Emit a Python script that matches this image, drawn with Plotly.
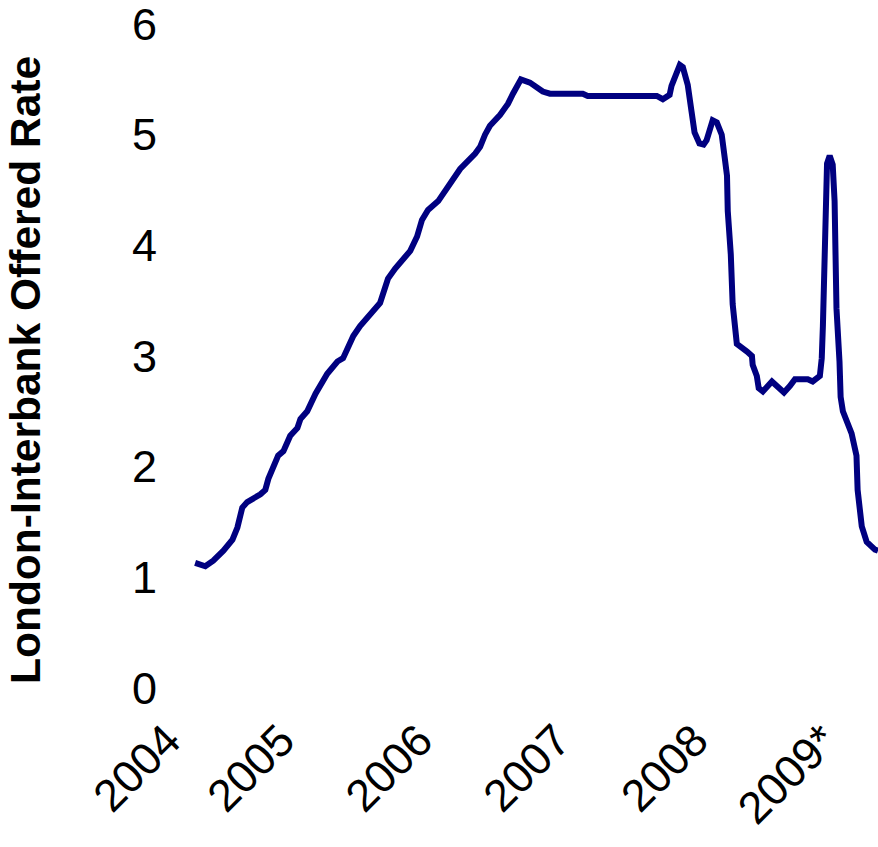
import plotly.graph_objects as go

# Three-month London Interbank Offered Rate, 2004 - early 2009 (percent)
dates = [
    "2004-02-22", "2004-03-20", "2004-04-10", "2004-05-07", "2004-05-31",
    "2004-06-13", "2004-06-26", "2004-07-09", "2004-08-13", "2004-08-26",
    "2004-09-03", "2004-09-16", "2004-09-29", "2004-10-13", "2004-10-31",
    "2004-11-19", "2004-11-27", "2004-12-15", "2005-01-06", "2005-02-06",
    "2005-03-05", "2005-03-20", "2005-04-03", "2005-04-16", "2005-05-04",
    "2005-06-08", "2005-06-26", "2005-07-17", "2005-08-05", "2005-09-14",
    "2005-10-02", "2005-10-15", "2005-10-31", "2005-11-27", "2005-12-20",
    "2006-01-05", "2006-01-24", "2006-03-05", "2006-03-18", "2006-03-31",
    "2006-04-13", "2006-05-10", "2006-05-31", "2006-06-13", "2006-06-23",
    "2006-07-04", "2006-07-28", "2006-08-31", "2006-09-19", "2006-12-15",
    "2006-12-28", "2007-06-29", "2007-07-15", "2007-08-02", "2007-08-07",
    "2007-08-29", "2007-09-06", "2007-09-19", "2007-09-29", "2007-10-07",
    "2007-10-20", "2007-10-31", "2007-11-08", "2007-11-24", "2007-12-05",
    "2007-12-18", "2007-12-26", "2008-01-01", "2008-01-03", "2008-01-11",
    "2008-01-16", "2008-01-24", "2008-01-27", "2008-02-23", "2008-03-07",
    "2008-03-09", "2008-03-20", "2008-03-25", "2008-04-05", "2008-04-29",
    "2008-05-12", "2008-05-31", "2008-06-16", "2008-06-29", "2008-08-02",
    "2008-08-15", "2008-09-03", "2008-09-08", "2008-09-11", "2008-09-16",
    "2008-09-19", "2008-09-22", "2008-09-29", "2008-10-07", "2008-10-12",
    "2008-10-13", "2008-10-17", "2008-10-25", "2008-10-28", "2008-11-03",
    "2008-11-26", "2008-12-09", "2008-12-12", "2008-12-23", "2009-01-05",
    "2009-01-27", "2009-02-04",
]
libor = [
    1.13, 1.10, 1.15, 1.24, 1.34,
    1.45, 1.63, 1.68, 1.75, 1.79,
    1.89, 1.98, 2.10, 2.14, 2.28,
    2.35, 2.43, 2.50, 2.66, 2.84,
    2.95, 2.98, 3.08, 3.18, 3.27,
    3.41, 3.48, 3.70, 3.79, 3.95,
    4.08, 4.23, 4.32, 4.40, 4.52,
    4.61, 4.69, 4.83, 4.89, 5.00,
    5.08, 5.18, 5.28, 5.37, 5.44,
    5.50, 5.47, 5.39, 5.37, 5.37,
    5.35, 5.35, 5.32, 5.36, 5.44,
    5.63, 5.61, 5.45, 5.21, 5.02,
    4.92, 4.91, 4.95, 5.13, 5.11,
    5.00, 4.79, 4.63, 4.31, 3.92,
    3.47, 3.27, 3.11, 3.04, 3.00,
    2.92, 2.82, 2.71, 2.68, 2.77,
    2.73, 2.67, 2.73, 2.79, 2.79,
    2.77, 2.82, 2.98, 3.27, 3.92,
    4.40, 4.74, 4.81, 4.73, 4.40,
    3.92, 3.43, 2.95, 2.63, 2.50,
    2.30, 2.10, 1.79, 1.46, 1.32,
    1.25, 1.24,
]

# Year labels along the time axis
year_labels = ["2004", "2005", "2006", "2007", "2008", "2009*"]
year_label_dates = ["2003-12-10", "2004-10-07", "2005-10-08",
                    "2006-10-08", "2007-10-08", "2008-09-14"]

rate_ticks = [0, 1, 2, 3, 4, 5, 6]

FONT = "Liberation Sans, Arial, sans-serif"

fig = go.Figure(
    go.Scatter(
        x=dates,
        y=libor,
        mode="lines",
        line=dict(color="#000080", width=6),
        hoverinfo="x+y",
    )
)

fig.update_layout(
    width=878,
    height=847,
    margin=dict(l=160, r=0, t=24, b=159),
    paper_bgcolor="white",
    plot_bgcolor="white",
    showlegend=False,
    font=dict(family=FONT, color="black"),
)

fig.update_xaxes(
    type="date",
    range=["2003-11-21", "2009-02-04"],
    tickmode="array",
    tickvals=year_label_dates,
    ticktext=year_labels,
    tickangle=-45,
    tickfont=dict(size=45, family=FONT, color="black"),
    showgrid=False,
    zeroline=False,
    showline=False,
    ticks="",
    ticklabelstandoff=16,
    ticklabeloverflow="allow",
)

fig.update_yaxes(
    range=[0, 6],
    tickmode="array",
    tickvals=rate_ticks,
    ticktext=[str(v) for v in rate_ticks],
    tickfont=dict(size=45, family=FONT, color="black"),
    showgrid=False,
    zeroline=False,
    showline=False,
    ticks="",
    ticklabelstandoff=2,
    ticklabeloverflow="allow",
)

fig.add_annotation(
    text="<b>London-Interbank Offered Rate</b>",
    textangle=-90,
    xref="paper",
    yref="paper",
    x=-135 / 718,
    y=(688 - 370) / 664,
    xanchor="center",
    yanchor="middle",
    showarrow=False,
    font=dict(size=42.5, family=FONT, color="black"),
)

fig.write_html("out.html")
